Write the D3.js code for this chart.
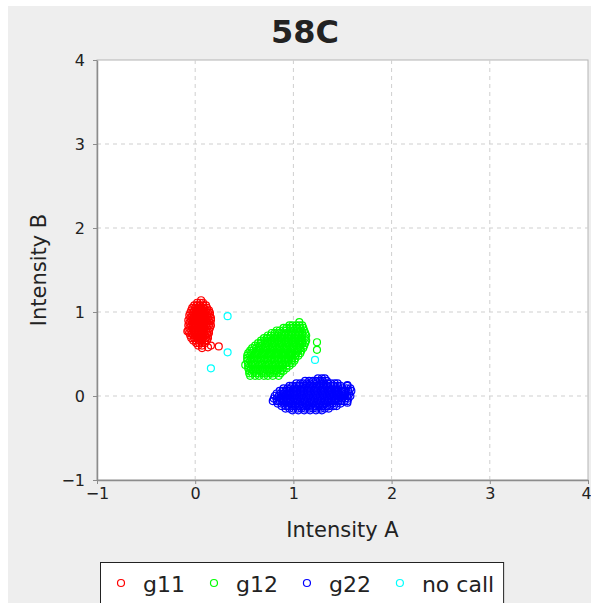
<!DOCTYPE html>
<html>
<head>
<meta charset="utf-8">
<script src="https://cdn.jsdelivr.net/npm/d3@7"></script>
<style>
body { margin: 0; background: #fff; }
text { font-family: "DejaVu Sans", sans-serif; fill: #222; }
</style>
</head>
<body>
<div id="vis"></div>
<script>
var title = '58C';
var xLabel = 'Intensity A';
var yLabel = 'Intensity B';
var xTicks = [-1, 0, 1, 2, 3, 4];
var yTicks = [-1, 0, 1, 2, 3, 4];
var seriesNames = ['g11', 'g12', 'g22', 'no call'];
var seriesColours = ['#ff0000', '#00ff00', '#0000ff', '#00ffff'];

// rows of the dense clusters: [intensity B, [intensity A values]]
var g11Rows = [
  [1.14, [0.06]],
  [1.11, [0.02, 0.05, 0.08]],
  [1.08, [-0.01, 0.02, 0.05, 0.08, 0.11]],
  [1.05, [-0.03, 0.00, 0.03, 0.06, 0.09, 0.12]],
  [1.02, [-0.04, -0.01, 0.02, 0.05, 0.08, 0.11, 0.14]],
  [0.99, [-0.05, -0.02, 0.01, 0.04, 0.07, 0.10, 0.13, 0.15]],
  [0.96, [-0.06, -0.03, 0.00, 0.03, 0.06, 0.09, 0.12, 0.15]],
  [0.93, [-0.05, -0.02, 0.01, 0.04, 0.07, 0.10, 0.13, 0.16]],
  [0.90, [-0.07, -0.04, -0.01, 0.02, 0.05, 0.08, 0.11, 0.14, 0.16]],
  [0.87, [-0.06, -0.03, 0.00, 0.03, 0.06, 0.09, 0.12, 0.15]],
  [0.84, [-0.07, -0.04, -0.01, 0.02, 0.05, 0.08, 0.11, 0.14, 0.16]],
  [0.81, [-0.06, -0.03, 0.00, 0.03, 0.06, 0.09, 0.12, 0.15]],
  [0.78, [-0.07, -0.04, -0.01, 0.02, 0.05, 0.08, 0.11, 0.14]],
  [0.75, [-0.06, -0.03, 0.00, 0.03, 0.06, 0.09, 0.12, 0.14]],
  [0.72, [-0.05, -0.02, 0.01, 0.04, 0.07, 0.10, 0.13]],
  [0.69, [-0.04, -0.01, 0.02, 0.05, 0.08, 0.11, 0.13]],
  [0.66, [-0.02, 0.01, 0.04, 0.07, 0.10, 0.12]],
  [0.63, [0.01, 0.04, 0.07, 0.10]],
  [0.60, [0.03, 0.07]]
];
var g11Extra = [[0.07, 0.57], [0.16, 0.60], [0.24, 0.59], [-0.08, 0.77], [0.13, 0.58]];

var g12Rows = [
  [0.84, [0.96, 0.99, 1.03, 1.06, 1.09]],
  [0.81, [0.90, 0.93, 0.97, 1.00, 1.04, 1.07, 1.10]],
  [0.78, [0.83, 0.86, 0.90, 0.93, 0.97, 1.00, 1.04, 1.07, 1.11]],
  [0.75, [0.78, 0.81, 0.85, 0.88, 0.92, 0.95, 0.99, 1.02, 1.06, 1.09, 1.12]],
  [0.72, [0.74, 0.77, 0.81, 0.84, 0.88, 0.91, 0.95, 0.98, 1.02, 1.05, 1.09, 1.13]],
  [0.69, [0.70, 0.73, 0.77, 0.80, 0.84, 0.87, 0.91, 0.94, 0.98, 1.01, 1.05, 1.08, 1.12]],
  [0.66, [0.67, 0.71, 0.74, 0.78, 0.81, 0.85, 0.88, 0.92, 0.95, 0.99, 1.02, 1.06, 1.09, 1.13]],
  [0.63, [0.64, 0.67, 0.71, 0.74, 0.78, 0.81, 0.85, 0.88, 0.92, 0.95, 0.99, 1.02, 1.06, 1.09, 1.12]],
  [0.60, [0.61, 0.65, 0.68, 0.72, 0.75, 0.79, 0.82, 0.86, 0.89, 0.93, 0.96, 1.00, 1.03, 1.07, 1.11]],
  [0.57, [0.58, 0.62, 0.65, 0.69, 0.72, 0.76, 0.79, 0.83, 0.86, 0.90, 0.93, 0.97, 1.00, 1.04, 1.07, 1.10]],
  [0.54, [0.56, 0.59, 0.63, 0.66, 0.70, 0.73, 0.77, 0.80, 0.84, 0.87, 0.91, 0.94, 0.98, 1.01, 1.05, 1.08]],
  [0.51, [0.54, 0.57, 0.61, 0.64, 0.68, 0.71, 0.75, 0.78, 0.82, 0.85, 0.89, 0.92, 0.96, 0.99, 1.03, 1.07]],
  [0.48, [0.53, 0.56, 0.60, 0.63, 0.67, 0.70, 0.74, 0.77, 0.81, 0.84, 0.88, 0.91, 0.95, 0.98, 1.02, 1.05]],
  [0.45, [0.53, 0.57, 0.60, 0.64, 0.67, 0.71, 0.74, 0.78, 0.81, 0.85, 0.88, 0.92, 0.95, 0.99, 1.02]],
  [0.42, [0.53, 0.56, 0.60, 0.63, 0.67, 0.70, 0.74, 0.77, 0.81, 0.84, 0.88, 0.91, 0.95, 0.98, 1.01]],
  [0.39, [0.54, 0.57, 0.61, 0.64, 0.68, 0.71, 0.75, 0.78, 0.82, 0.85, 0.89, 0.92, 0.96, 0.99]],
  [0.36, [0.54, 0.58, 0.61, 0.65, 0.68, 0.72, 0.75, 0.79, 0.82, 0.86, 0.89, 0.93, 0.96]],
  [0.33, [0.54, 0.57, 0.61, 0.64, 0.68, 0.71, 0.75, 0.78, 0.82, 0.85, 0.89, 0.93]],
  [0.30, [0.55, 0.59, 0.62, 0.66, 0.69, 0.73, 0.76, 0.80, 0.83, 0.87, 0.90]],
  [0.27, [0.55, 0.58, 0.62, 0.65, 0.69, 0.72, 0.76, 0.79, 0.83, 0.87]],
  [0.24, [0.56, 0.61, 0.65, 0.70, 0.74, 0.79, 0.85]]
];
var g12Extra = [[1.06, 0.88], [1.24, 0.64], [1.24, 0.55], [0.51, 0.37]];

var g22Rows = [
  [0.21, [1.25, 1.29, 1.32]],
  [0.18, [1.12, 1.16, 1.20, 1.23, 1.27, 1.30, 1.34]],
  [0.15, [1.03, 1.07, 1.10, 1.14, 1.17, 1.21, 1.24, 1.28, 1.31, 1.35, 1.38, 1.42, 1.45]],
  [0.12, [0.96, 0.99, 1.03, 1.06, 1.10, 1.13, 1.17, 1.20, 1.24, 1.27, 1.31, 1.34, 1.38, 1.41, 1.45, 1.48, 1.55]],
  [0.09, [0.90, 0.94, 0.97, 1.01, 1.04, 1.08, 1.11, 1.15, 1.18, 1.22, 1.25, 1.29, 1.32, 1.36, 1.39, 1.43, 1.46, 1.50, 1.54, 1.58]],
  [0.06, [0.86, 0.89, 0.93, 0.96, 1.00, 1.03, 1.07, 1.10, 1.14, 1.17, 1.21, 1.24, 1.28, 1.31, 1.35, 1.38, 1.42, 1.45, 1.49, 1.52, 1.56, 1.59]],
  [0.03, [0.83, 0.87, 0.90, 0.94, 0.97, 1.01, 1.04, 1.08, 1.11, 1.15, 1.18, 1.22, 1.25, 1.29, 1.32, 1.36, 1.39, 1.43, 1.46, 1.50, 1.53, 1.57]],
  [0.00, [0.81, 0.85, 0.88, 0.92, 0.95, 0.99, 1.02, 1.06, 1.09, 1.13, 1.16, 1.20, 1.23, 1.27, 1.30, 1.34, 1.37, 1.41, 1.44, 1.48, 1.51, 1.55, 1.58]],
  [-0.03, [0.80, 0.83, 0.87, 0.90, 0.94, 0.97, 1.01, 1.04, 1.08, 1.11, 1.15, 1.18, 1.22, 1.25, 1.29, 1.32, 1.36, 1.39, 1.43, 1.46, 1.50, 1.53, 1.56]],
  [-0.06, [0.79, 0.83, 0.86, 0.90, 0.93, 0.97, 1.00, 1.04, 1.07, 1.11, 1.14, 1.18, 1.21, 1.25, 1.28, 1.32, 1.35, 1.39, 1.42, 1.46, 1.49, 1.52, 1.55]],
  [-0.09, [0.84, 0.88, 0.91, 0.95, 0.98, 1.02, 1.05, 1.09, 1.12, 1.16, 1.19, 1.23, 1.26, 1.30, 1.33, 1.37, 1.40, 1.44, 1.48]],
  [-0.12, [0.88, 0.92, 0.95, 0.99, 1.02, 1.06, 1.09, 1.13, 1.16, 1.20, 1.23, 1.27, 1.30, 1.34, 1.37, 1.41, 1.44]],
  [-0.15, [0.92, 0.96, 1.00, 1.04, 1.08, 1.12, 1.16, 1.20, 1.24, 1.28, 1.32, 1.36]],
  [-0.17, [0.99, 1.05, 1.11, 1.17, 1.23, 1.29]]
];
var g22Extra = [[1.55, 0.13], [1.55, -0.08]];

var noCall = [[0.33, 0.95], [0.33, 0.52], [0.16, 0.33], [1.22, 0.43]];

function flatten(rows, extra) {
  var pts = [];
  rows.forEach(function(r) {
    r[1].forEach(function(a) { pts.push([a, r[0]]); });
  });
  return pts.concat(extra);
}

var series = [
  flatten(g11Rows, g11Extra),
  flatten(g12Rows, g12Extra),
  flatten(g22Rows, g22Extra),
  noCall
];

var width = 591, height = 603;
var plot = { left: 97, right: 588, top: 60, bottom: 480 };

var svg = d3.select('#vis')
  .append('svg')
  .attr('width', width)
  .attr('height', height);

svg.append('rect')
  .attr('x', 8).attr('y', 6)
  .attr('width', width - 8).attr('height', height - 6)
  .attr('fill', '#eeeeee');

var x_scale = d3.scaleLinear().domain([-1, 4]).range([plot.left, plot.right]);
var y_scale = d3.scaleLinear().domain([-1, 4]).range([plot.bottom, plot.top]);

svg.append('rect')
  .attr('x', plot.left).attr('y', plot.top)
  .attr('width', plot.right - plot.left).attr('height', plot.bottom - plot.top)
  .attr('fill', '#fff')
  .attr('stroke', '#b4b4b4');

// grid
svg.append('g').selectAll('line')
  .data(xTicks.slice(1, -1))
  .enter().append('line')
  .attr('x1', function(d) { return x_scale(d); })
  .attr('x2', function(d) { return x_scale(d); })
  .attr('y1', plot.top).attr('y2', plot.bottom)
  .attr('stroke', '#cfcfcf').attr('stroke-dasharray', '4,4');

svg.append('g').selectAll('line')
  .data(yTicks.slice(1, -1))
  .enter().append('line')
  .attr('y1', function(d) { return y_scale(d); })
  .attr('y2', function(d) { return y_scale(d); })
  .attr('x1', plot.left).attr('x2', plot.right)
  .attr('stroke', '#cfcfcf').attr('stroke-dasharray', '4,4');

var x_axis = d3.axisBottom(x_scale).tickValues(xTicks).tickFormat(d3.format('d'))
  .tickSize(4).tickPadding(4).tickSizeOuter(0);
var y_axis = d3.axisLeft(y_scale).tickValues(yTicks).tickFormat(d3.format('d'))
  .tickSize(4).tickPadding(8).tickSizeOuter(0);

var gx = svg.append('g')
  .attr('transform', 'translate(0,' + plot.bottom + ')')
  .call(x_axis);
var gy = svg.append('g')
  .attr('transform', 'translate(' + plot.left + ',0)')
  .call(y_axis);

[gx, gy].forEach(function(g) {
  g.select('.domain').attr('stroke', '#8c8c8c').attr('stroke-width', 1.5);
  g.selectAll('.tick line').attr('stroke', '#8c8c8c');
  g.selectAll('.tick text')
    .style('font-family', '"DejaVu Sans", sans-serif')
    .style('font-size', '16px')
    .attr('fill', '#222');
});
// last x label sits on the panel edge
gx.selectAll('.tick text').filter(function(d) { return d === 4; }).attr('dx', '-2');

// points
svg.append('clipPath').attr('id', 'clip')
  .append('rect')
  .attr('x', plot.left).attr('y', plot.top)
  .attr('width', plot.right - plot.left).attr('height', plot.bottom - plot.top);

var pointsG = svg.append('g').attr('clip-path', 'url(#clip)');
series.forEach(function(pts, i) {
  pointsG.append('g').selectAll('circle')
    .data(pts)
    .enter().append('circle')
    .attr('cx', function(d) { return x_scale(d[0]); })
    .attr('cy', function(d) { return y_scale(d[1]); })
    .attr('r', 3.5)
    .attr('fill', 'none')
    .attr('stroke', seriesColours[i])
    .attr('stroke-width', 1.2);
});

// titles
svg.append('text')
  .attr('x', 305).attr('y', 43)
  .attr('text-anchor', 'middle')
  .style('font-size', '32px').style('font-weight', 'bold')
  .attr('fill', '#000')
  .text(title);

svg.append('text')
  .attr('x', (plot.left + plot.right) / 2).attr('y', 537)
  .attr('text-anchor', 'middle')
  .style('font-size', '21px')
  .text(xLabel);

svg.append('text')
  .attr('transform', 'translate(46,' + ((plot.top + plot.bottom) / 2) + ') rotate(-90)')
  .attr('text-anchor', 'middle')
  .style('font-size', '21px')
  .text(yLabel);

// legend
var legend = svg.append('g');
var box = legend.append('rect')
  .attr('x', 100.5).attr('y', 562.5)
  .attr('height', 50)
  .attr('fill', '#fff')
  .attr('stroke', '#222');

var cursor = 100;
seriesNames.forEach(function(name, i) {
  var cx = cursor + 21;
  legend.append('circle')
    .attr('cx', cx).attr('cy', 583)
    .attr('r', 3.5)
    .attr('fill', 'none')
    .attr('stroke', seriesColours[i])
    .attr('stroke-width', 1.2);
  var t = legend.append('text')
    .attr('x', cx + 22).attr('y', 592)
    .style('font-size', '22px')
    .text(name);
  cursor = cx + 22 + t.node().getComputedTextLength() + 8;
});
box.attr('width', cursor + 1 - 100);
</script>
</body>
</html>
